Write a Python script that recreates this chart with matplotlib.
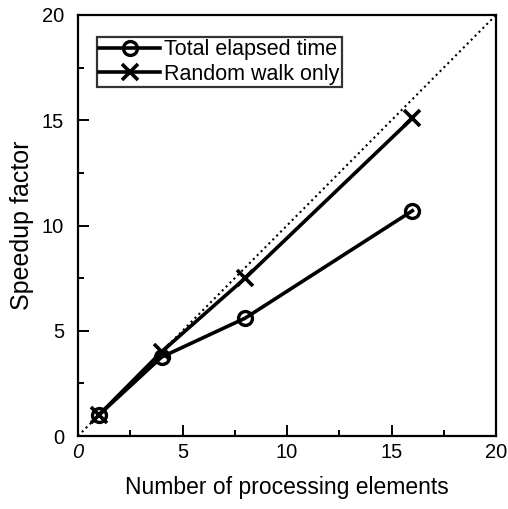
import numpy as np
import matplotlib.pyplot as plt
from matplotlib.ticker import MultipleLocator

plt.rcParams['font.family'] = ['Liberation Sans', 'DejaVu Sans']

# Data
pes = [1, 4, 8, 16]
total_time = [1.0, 3.75, 5.6, 10.7]
random_walk = [1.0, 4.0, 7.5, 15.1]
ideal = [0, 20]

fig = plt.figure(figsize=(5.08, 5.09), dpi=100)
ax = fig.add_axes([78 / 508, 1 - 436 / 509, 418 / 508, 421 / 509])

ax.plot(ideal, ideal, linestyle=':', color='black', linewidth=1.5)
ax.plot(pes, total_time, color='black', linewidth=2.6, marker='o',
        markersize=10, markerfacecolor='none', markeredgewidth=2.4,
        label='Total elapsed time')
ax.plot(pes, random_walk, color='black', linewidth=2.6, marker='x',
        markersize=11, markeredgewidth=2.6, label='Random walk only')

ax.set_xlim(0, 20)
ax.set_ylim(0, 20)
ax.xaxis.set_major_locator(MultipleLocator(5))
ax.xaxis.set_minor_locator(MultipleLocator(2.5))
ax.yaxis.set_major_locator(MultipleLocator(5))
ax.yaxis.set_minor_locator(MultipleLocator(2.5))
ax.tick_params(which='both', direction='in', top=False, right=False,
               labelsize=14.5, width=1.4)
ax.tick_params(which='major', length=8)
ax.tick_params(which='minor', length=4)
ax.tick_params(axis='x', pad=5)
ax.tick_params(axis='y', pad=10)
for s in ax.spines.values():
    s.set_linewidth(1.6)

ax.set_xticks([0, 5, 10, 15, 20])
ax.set_xticklabels(['0', '5', '10', '15', '20'])
ax.get_xticklabels()[0].set_style('italic')

ax.set_xlabel('Number of processing elements', fontsize=16.5, labelpad=10)
ax.set_ylabel('Speedup factor', fontsize=18, labelpad=6)

leg = ax.legend(loc='upper left', bbox_to_anchor=(0.045, 0.948), fontsize=15.5,
                frameon=True, fancybox=False, edgecolor='black',
                handlelength=2.8, handletextpad=0.2, borderpad=0.12,
                labelspacing=0.15, borderaxespad=0)
leg.get_frame().set_linewidth(1.6)

fig.savefig('out.png', dpi=100)
